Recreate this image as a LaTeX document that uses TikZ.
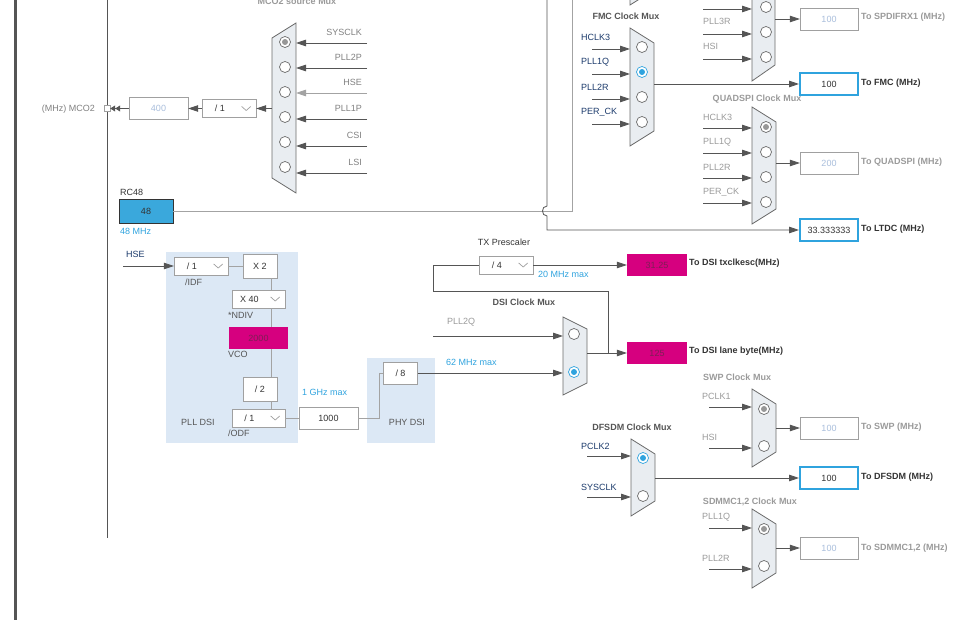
\documentclass[tikz,border=0pt]{standalone}
\usepackage{fontspec}
\setmainfont{Liberation Sans}
\usepackage{xcolor}
\usepackage{tikz}
\usetikzlibrary{calc,arrows.meta}
\definecolor{wire}{HTML}{555555}
\definecolor{lightwire}{HTML}{A3A3A3}
\definecolor{muxfill}{HTML}{E9EDF1}
\definecolor{muxline}{HTML}{6B6B6B}
\definecolor{boxgray}{HTML}{A0A0A0}
\definecolor{stblue}{HTML}{2FA3DE}
\definecolor{rcblue}{HTML}{3AA8DC}
\definecolor{stpink}{HTML}{D6007F}
\definecolor{pinktext}{HTML}{7D1F55}
\definecolor{pllbg}{HTML}{DCE8F5}
\definecolor{navy}{HTML}{1B3A6B}
\definecolor{dimtext}{HTML}{9A9A9A}
\definecolor{offval}{HTML}{A9BEDC}
\definecolor{darktext}{HTML}{333333}
\definecolor{titletext}{HTML}{555555}
\newcommand{\fsz}{\fontsize{9}{11}\selectfont}
\tikzset{
muxbody/.style={draw=muxline, fill=muxfill, line width=0.8pt},
port/.style={circle, draw=muxline, fill=white, minimum size=11pt, inner sep=0pt, line width=0.7pt},
portgray/.style={port, path picture={\fill[muxline!70] (path picture bounding box.center) circle (3pt);}},
portblue/.style={port, draw=stblue, path picture={\fill[stblue] (path picture bounding box.center) circle (3pt);}},
arr/.style={draw=wire, line width=0.8pt, -{Triangle[length=10pt,width=6.5pt]}},
dblarr/.style={draw=wire, line width=0.8pt, -{Triangle[length=5pt,width=6pt] Triangle[length=5pt,width=6pt]}},
link/.style={draw=wire, line width=0.8pt},
chev/.style={draw=boxgray, line width=0.7pt},
valbox/.style={draw=boxgray, fill=white, minimum width=58pt, minimum height=22pt, inner sep=0pt, text=offval},
valon/.style={valbox, draw=stblue, line width=2pt, text=darktext},
pinkbox/.style={fill=stpink, minimum width=60pt, minimum height=22pt, inner sep=0pt, text=pinktext},
smallbox/.style={draw=boxgray, fill=white, minimum width=34pt, minimum height=24pt, inner sep=0pt, text=darktext},
ddbox/.style={draw=boxgray, fill=white, minimum height=18pt, inner sep=0pt},
lab/.style={text=dimtext, inner sep=0pt},
title/.style={font=\fsz\bfseries, text=titletext, inner sep=0pt},
dest/.style={anchor=west, font=\fsz\bfseries, text=darktext, inner sep=0pt},
destoff/.style={dest, text=dimtext},
}
% mux with the output on the right
\newcommand{\muxr}[4][15]{
\coordinate (#2) at (#3);
\draw[muxbody] (#2) -- ($(#2) + (24, #1)$) -- ($(#2) + (24, #4 - #1)$)
   -- ($(#2) + (0, #4)$) -- cycle;
\coordinate (#2out) at ($(#2) + (24, #4/2)$);
}
% mux with the output on the left
\newcommand{\muxl}[3]{
\coordinate (#1) at (#2);
\draw[muxbody] (#1) -- ($(#1) + (0, #3)$) -- ($(#1) + (-24, #3 - 15)$)
   -- ($(#1) + (-24, 15)$) -- cycle;
\coordinate (#1out) at ($(#1) + (-24, #3/2)$);
}
% drop-down divider box
\newcommand{\selbox}[4]{
\node[ddbox, minimum width=#3pt] (#1) at (#2) {};
\node[inner sep=0pt, text=darktext] (#1t) at ($(#1.west) + (#3/3, 0)$) {#4};
\draw[chev] ($(#1.east) + (-14.5, -2)$) -- ++(4.5, 4) -- ++(4.5, -4);
}

\begin{document}
\begin{tikzpicture}[x=1pt, y=-1pt, font=\fsz]
\useasboundingbox (0,0) rectangle (978,620);
\clip (0,0) rectangle (978,620);
\draw[line width=3pt, draw=wire] (15.5,-2) -- (15.5,622);
\draw[line width=1pt, draw=wire] (107,-2) -- (107,538);

% MCO2
\node[title, text=dimtext] (mcotitle) at (297,1.5) {MCO2 source Mux};
\muxl{mcomux}{296,23}{170}
\foreach \lab/\yy/\ya/\st/\col [count=\i] in {SYSCLK/42/43/portgray/wire, PLL2P/67/68/port/wire,
  HSE/92/93/port/lightwire, PLL1P/117/119/port/wire, CSI/142/146/port/wire, LSI/167/173/port/wire} {
  \node[\st] (mco\i) at (285,\yy) {};
  \coordinate (mcos\i) at (367,\ya);
  \draw[arr, draw=\col] (mcos\i) -- (296,\ya);
  \node[lab, anchor=east, text=gray] (mcol\i) at (362,\ya-11) {\lab};
}
\selbox{mcodiv}{229,108.5}{54}{/ 1}
\node[valbox, minimum width=59pt] (mcoval) at (158.5,108.5) {400};
\node[draw=boxgray, fill=white, minimum size=6pt, inner sep=0pt] (mcopin) at (107,108.5) {};
\node[lab, anchor=east, text=gray] (mconame) at (95,109) {(MHz) MCO2};
\draw[arr] (mcodiv.east -| mcomuxout) -- (mcodiv.east);
\draw[arr] (mcodiv.west) -- (mcoval.east);
\draw[dblarr] (mcoval.west) -- (mcopin.east);

% RC48
\node[inner sep=0pt, anchor=west, text=darktext] (rcname) at (120,192) {RC48};
\node[draw=darktext, fill=rcblue, minimum width=54pt, minimum height=24pt, inner sep=0pt,
  text=darktext] (rc48) at (146,211) {48};
\node[inner sep=0pt, anchor=west, text=stblue] (rcfreq) at (120,231) {48 MHz};
\coordinate (rcup) at (572,-2);
\draw[link, draw=lightwire] (rc48.east) -| (rcup);

% LTDC
\coordinate (ltdcsrc) at (547,-2);
\node[valon] (ltdc) at (829,230) {33.333333};
\draw[arr] (ltdcsrc) -- (547,206) .. controls (541,206) and (541,216) .. (547,216)
   |- (ltdc.west);
\node[dest] (ltdcname) at (861,229) {To LTDC (MHz)};

% SPDIFRX, cut at the top
\draw[muxbody] (630,-40) -- (630,5) -- (654,-10);
\draw[muxbody] (752,-60) -- (752,81) -- (775,65) -- (775,-60);
\foreach \yy [count=\i] in {7,32,57} {
  \node[port] (spd\i) at (766,\yy) {};
  \coordinate (spds\i) at (703,\yy+2);
  \draw[arr] (spds\i) -- ++(49,0);
}
\node[lab, anchor=west] (spdl2) at (703,21) {PLL3R};
\node[lab, anchor=west] (spdl3) at (703,46) {HSI};
\node[valbox] (spdval) at (829,19) {100};
\draw[arr] (775,19) -- (spdval.west);
\node[destoff] (spdname) at (861,17) {To SPDIFRX1 (MHz)};

% FMC
\node[title] (fmctitle) at (626,16) {FMC Clock Mux};
\muxr{fmcmux}{630,28}{118}
\foreach \lab/\st [count=\i] in {HCLK3/port, PLL1Q/portblue, PLL2R/port, PER\_CK/port} {
  \node[\st] (fmc\i) at (642,22+25*\i) {};
  \coordinate (fmcs\i) at (592,24+25*\i);
  \draw[arr] (fmcs\i) -- ++(38,0);
  \node[lab, anchor=west, text=navy] (fmcl\i) at (581,12+25*\i) {\lab};
}
\node[valon] (fmcval) at (829,84) {100};
\draw[arr] (fmcval.west -| fmcmuxout) -- (fmcval.west);
\node[dest] (fmcname) at (861,83) {To FMC (MHz)};

% QUADSPI
\node[title, text=dimtext] (qspititle) at (757,99) {QUADSPI Clock Mux};
\muxr{qspimux}{752,107}{117}
\foreach \lab/\st [count=\i] in {HCLK3/portgray, PLL1Q/port, PLL2R/port, PER\_CK/port} {
  \node[\st] (qspi\i) at (766,102+25*\i) {};
  \coordinate (qspis\i) at (703,103+25*\i);
  \draw[arr] (qspis\i) -- ++(49,0);
  \node[lab, anchor=west] (qspil\i) at (703,92+25*\i) {\lab};
}
\node[valbox] (qspival) at (829,163) {200};
\draw[arr] (qspival.west -| qspimuxout) -- (qspival.west);
\node[destoff] (qspiname) at (861,162) {To QUADSPI (MHz)};

% PLL DSI and PHY DSI
\fill[pllbg] (166,252) rectangle (298,443);
\fill[pllbg] (367,358) rectangle (435,443);
\node[inner sep=0pt, anchor=west, text=navy] (hsename) at (126,254) {HSE};
\coordinate (hse) at (123,266);
\selbox{idf}{201,266}{54}{/ 1}
\draw[arr] (hse) -- (idf.west);
\node[lab, anchor=west, text=titletext] (idfname) at (185,282) {/IDF};
\node[smallbox] (x2) at (260,266) {X 2};
\draw[link, draw=lightwire] (idf.east) -- (x2.west);
\selbox{ndiv}{258.5,299}{53}{X 40}
\node[lab, anchor=west, text=titletext] (ndivname) at (228,315) {*NDIV};
\node[pinkbox, minimum width=59pt] (vco) at (258.5,338) {2000};
\node[lab, anchor=west, text=titletext] (vconame) at (228,354) {VCO};
\node[smallbox] (div2) at (260,389) {/ 2};
\selbox{odf}{258.5,418}{53}{/ 1}
\node[lab, anchor=west, text=titletext] (odfname) at (228,433) {/ODF};
\node[lab, text=titletext] (pllname) at (198,422) {PLL DSI};
\coordinate (vx) at (271,0);
\draw[link, draw=lightwire] (x2.south -| vx) -- (ndiv.north -| vx);
\draw[link, draw=lightwire] (ndiv.south -| vx) -- (vco.north -| vx);
\draw[link, draw=lightwire] (vco.south -| vx) -- (div2.north -| vx);
\draw[link, draw=lightwire] (div2.south -| vx) -- (odf.north -| vx);
\node[valbox, minimum width=59pt, text=darktext] (dsiclk) at (328.5,418) {1000};
\draw[link, draw=lightwire] (odf.east) -- (dsiclk.west);
\node[lab, anchor=west, text=stblue] (ghzmax) at (302,392) {1 GHz max};
\node[smallbox, minimum height=22pt] (phydiv) at (400.5,373) {/ 8};
\draw[link, draw=lightwire] (dsiclk.east) -- (379,418) |- (phydiv.west);
\node[lab, text=titletext] (phyname) at (407,422) {PHY DSI};

% TX prescaler and DSI mux
\node[inner sep=0pt, text=darktext] (txname) at (504,242) {TX Prescaler};
\selbox{txdiv}{506,265}{54}{/ 4}
\node[pinkbox] (txesc) at (657,265) {31.25};
\draw[arr] (txdiv.east) -- (txesc.west);
\node[lab, anchor=west, text=stblue] (txmax) at (538,274) {20 MHz max};
\node[dest] (txescname) at (689,263) {To DSI txclkesc(MHz)};
\node[title] (dsititle) at (524,302) {DSI Clock Mux};
\muxr[12]{dsimux}{563,317}{78}
\node[port] (dsi1) at (574,334) {};
\node[portblue] (dsi2) at (574,372) {};
\coordinate (pll2q) at (433,336);
\draw[arr] (pll2q) -- (pll2q -| dsimux);
\node[lab, anchor=west] (pll2qname) at (447,322) {PLL2Q};
\draw[arr] (phydiv.east) -- (phydiv.east -| dsimux);
\node[lab, anchor=west, text=stblue] (phymax) at (446,362) {62 MHz max};
\node[pinkbox] (lanebyte) at (657,353) {125};
\draw[arr] (lanebyte.west -| dsimuxout) -- (lanebyte.west);
\coordinate (txloop) at (608,353);
\draw[link] (txloop) |- (433,291) |- (txdiv.west);
\node[dest] (lanename) at (689,351) {To DSI lane byte(MHz)};

% SWP
\node[title, text=dimtext] (swptitle) at (737,377) {SWP Clock Mux};
\muxr{swpmux}{752,389}{78}
\foreach \lab/\yy/\ya/\st [count=\i] in {PCLK1/409/407/portgray, HSI/446/448/port} {
  \node[\st] (swp\i) at (764,\yy) {};
  \coordinate (swps\i) at (709,\ya);
  \draw[arr] (swps\i) -- ++(43,0);
  \node[lab, anchor=west] (swpl\i) at (702,\ya-11) {\lab};
}
\node[valbox] (swpval) at (829,428) {100};
\draw[arr] (swpval.west -| swpmuxout) -- (swpval.west);
\node[destoff] (swpname) at (861,427) {To SWP (MHz)};

% DFSDM
\node[title] (dfsdmtitle) at (632,427) {DFSDM Clock Mux};
\muxr{dfsdmmux}{631,439}{77}
\foreach \lab/\yy/\ya/\st [count=\i] in {PCLK2/458/456/portblue, SYSCLK/496/497/port} {
  \node[\st] (dfsdm\i) at (643,\yy) {};
  \coordinate (dfsdms\i) at (587,\ya);
  \draw[arr] (dfsdms\i) -- ++(44,0);
  \node[lab, anchor=west, text=navy] (dfsdml\i) at (581,\ya-10) {\lab};
}
\node[valon] (dfsdmval) at (829,478) {100};
\draw[arr] (dfsdmval.west -| dfsdmmuxout) -- (dfsdmval.west);
\node[dest] (dfsdmname) at (861,477) {To DFSDM (MHz)};

% SDMMC
\node[title, text=dimtext] (sdmtitle) at (750,502) {SDMMC1,2 Clock Mux};
\muxr{sdmmux}{752,509}{79}
\foreach \lab/\yy/\ya/\st [count=\i] in {PLL1Q/529/528/portgray, PLL2R/566/569/port} {
  \node[\st] (sdm\i) at (764,\yy) {};
  \coordinate (sdms\i) at (709,\ya);
  \draw[arr] (sdms\i) -- ++(43,0);
  \node[lab, anchor=west] (sdml\i) at (702,\ya-11) {\lab};
}
\node[valbox] (sdmval) at (829,548) {100};
\draw[arr] (sdmval.west -| sdmmuxout) -- (sdmval.west);
\node[destoff] (sdmname) at (861,548) {To SDMMC1,2 (MHz)};
\end{tikzpicture}
\end{document}
